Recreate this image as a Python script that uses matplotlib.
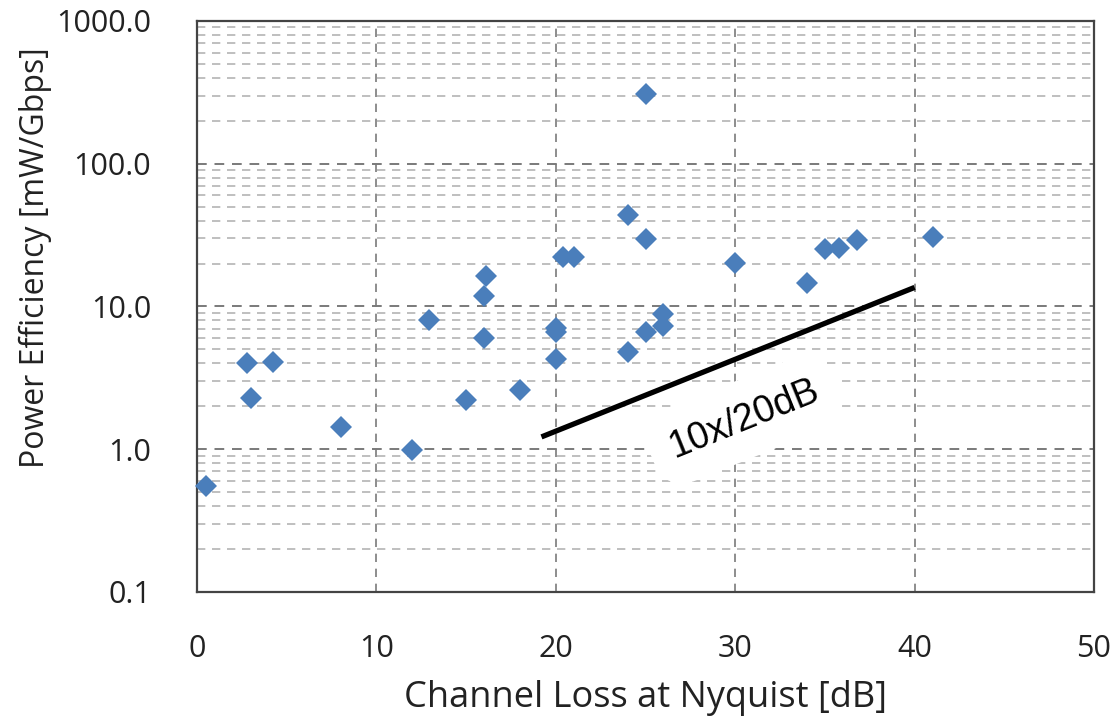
import numpy as np
import matplotlib
matplotlib.use('Agg')
import matplotlib.pyplot as plt
from matplotlib.ticker import FixedLocator, LogLocator, NullFormatter

# channel loss [dB] and power efficiency [mW/Gbps]
LOSS = [0.5, 2.8, 3.0, 4.25, 8.0, 12.0, 12.95, 15.0, 16.0, 16.0, 16.1, 18.0,
        20.0, 20.0, 20.0, 20.4, 21.0, 24.0, 24.0, 25.0, 25.0, 25.0, 26.0, 26.0,
        30.0, 34.0, 35.0, 35.8, 36.8, 41.0]
EFFICIENCY = [0.55, 4.05, 2.3, 4.08, 1.42, 0.99, 8.05, 2.22, 6.0, 11.9, 16.4, 2.6,
              4.3, 6.6, 7.1, 22.3, 22.3, 43.6, 4.8, 307.0, 29.9, 6.6, 7.3, 8.8,
              20.1, 14.7, 25.2, 25.5, 29.3, 30.9]

# 10x per 20 dB guide line
TREND_X = [19.2, 40.0]
TREND_Y = [1.22, 13.6]
TREND_LABEL = '10x/20dB'

X_TICKS = [0, 10, 20, 30, 40, 50]
Y_TICKS = [0.1, 1.0, 10.0, 100.0, 1000.0]

MARKER_COLOR = '#4a7ebb'
TICK_FONT = 'Open Sans'

fig = plt.figure(figsize=(11.17, 7.23), dpi=100)
ax = fig.add_axes([0.1764, 0.1812, 0.8030, 0.7898])

ax.set_yscale('log')
ax.set_xlim(0, 50)
ax.set_ylim(0.1, 1000)

ax.xaxis.set_major_locator(FixedLocator(X_TICKS))
ax.yaxis.set_major_locator(FixedLocator(Y_TICKS))
ax.yaxis.set_minor_locator(LogLocator(base=10, subs=np.arange(2, 10)))
ax.yaxis.set_minor_formatter(NullFormatter())
ax.set_xticklabels([str(v) for v in X_TICKS])
ax.set_yticklabels([f'{v:.1f}' for v in Y_TICKS])

ax.set_axisbelow(True)
ax.grid(axis='x', which='major', color='#7a7a7a', linestyle=(0, (5, 4)), linewidth=1.2)
ax.grid(axis='y', which='major', color='#7a7a7a', linestyle=(0, (5, 4)), linewidth=1.4)
ax.grid(axis='y', which='minor', color='#b4b4b4', linestyle=(0, (5, 4)), linewidth=1.2)

ax.tick_params(which='both', length=0, labelsize=22, labelcolor='#222222')
ax.tick_params(axis='x', pad=30)
ax.tick_params(axis='y', pad=33)
for lab in ax.get_xticklabels() + ax.get_yticklabels():
    lab.set_family(TICK_FONT)

for sp in ax.spines.values():
    sp.set_color('#444444')
    sp.set_linewidth(1.6)

ax.plot(TREND_X, TREND_Y, color='black', linewidth=3.8, solid_capstyle='butt', zorder=4)
ax.text(30.5, 1.62, TREND_LABEL, rotation=22, fontsize=27, family='Liberation Sans',
        ha='center', va='center', zorder=3,
        bbox=dict(boxstyle='round,pad=0.55,rounding_size=0.9', facecolor='white',
                  edgecolor='none'))

ax.plot(LOSS, EFFICIENCY, linestyle='none', marker='D', markersize=11,
        color=MARKER_COLOR, markeredgewidth=0, zorder=5, clip_on=False)

ax.set_xlabel('Channel Loss at Nyquist [dB]', fontsize=26, family=TICK_FONT,
              color='#222222', labelpad=12)
ax.set_ylabel('Power Efficiency [mW/Gbps]', fontsize=23, family=TICK_FONT,
              color='#222222')
ax.yaxis.set_label_coords(-0.162, 0.585)

fig.savefig('out.png', dpi=100)
